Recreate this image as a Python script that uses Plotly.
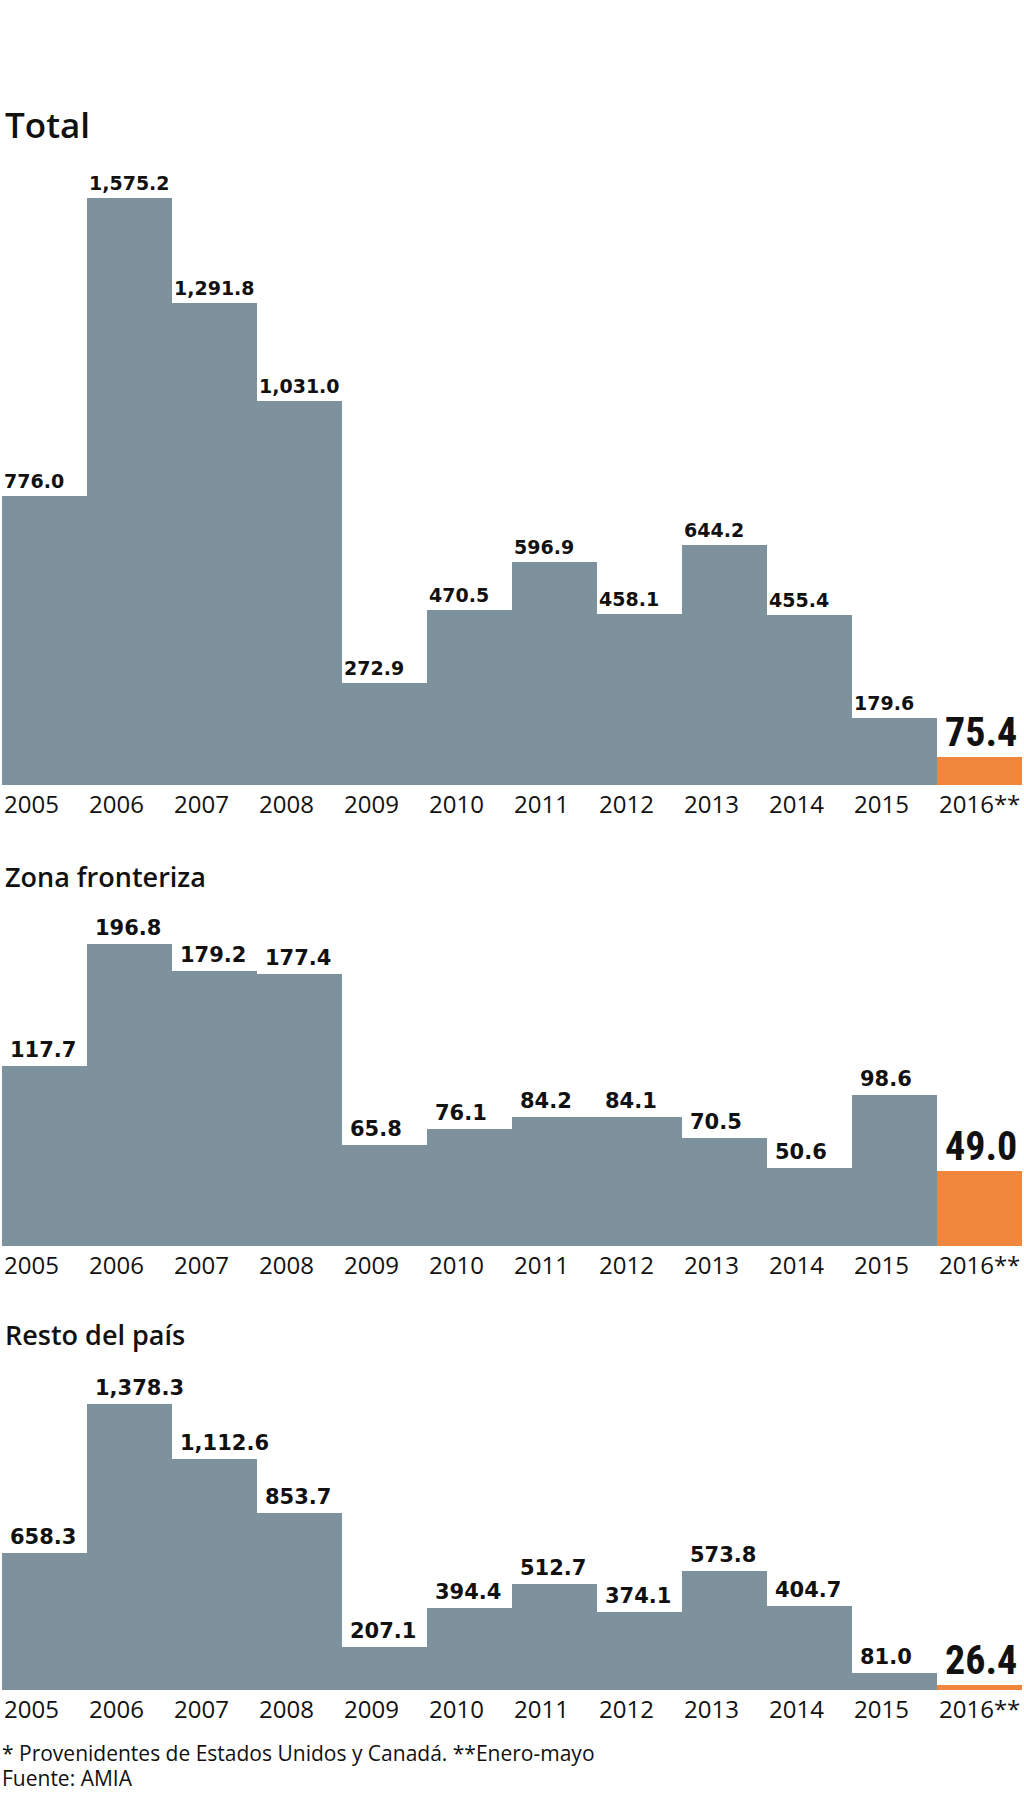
import plotly.graph_objects as go
from plotly.subplots import make_subplots

# Datos (miles de unidades)
years = ["2005", "2006", "2007", "2008", "2009", "2010",
         "2011", "2012", "2013", "2014", "2015", "2016**"]
total = [776.0, 1575.2, 1291.8, 1031.0, 272.9, 470.5,
         596.9, 458.1, 644.2, 455.4, 179.6, 75.4]
frontera = [117.7, 196.8, 179.2, 177.4, 65.8, 76.1,
            84.2, 84.1, 70.5, 50.6, 98.6, 49.0]
resto = [658.3, 1378.3, 1112.6, 853.7, 207.1, 394.4,
         512.7, 374.1, 573.8, 404.7, 81.0, 26.4]

titles = ["Total", "Zona fronteriza", "Resto del país"]
nota = "* Provenidentes de Estados Unidos y Canadá. **Enero-mayo"
fuente = "Fuente: AMIA"

W, H = 1024, 1796
GRAY = "#7e929e"
ORANGE = "#f0873d"

# layout de cada panel: (linea base px, tope px, max eje y, y del título px, tamaño título, sangría, tamaño valor)
panels = [
    (785, 151, 1700, 138, 35, 1, 19),
    (1246, 924, 210, 887, 27, 7, 21),
    (1690, 1389, 1450, 1345, 27, 7, 21),
]
series = [total, frontera, resto]

fig = make_subplots(rows=3, cols=1)
annotations = []

for p, (vals, cfg) in enumerate(zip(series, panels)):
    base_px, top_px, ymax, title_px, title_size, indent, vsize = cfg
    row = p + 1
    xs = list(range(len(years)))
    colors = [GRAY] * (len(years) - 1) + [ORANGE]
    fig.add_trace(go.Bar(x=xs, y=vals, width=1, marker_color=colors,
                         marker_line_width=0, hoverinfo="skip",
                         showlegend=False), row=row, col=1)

    sfx = "" if p == 0 else str(row)
    fig.layout["xaxis" + sfx].update(
        domain=[2 / W, 1 - 2 / W], range=[-0.5, len(years) - 0.5],
        showticklabels=False, showgrid=False, zeroline=False, ticks="")
    fig.layout["yaxis" + sfx].update(
        domain=[1 - base_px / H, 1 - top_px / H], range=[0, ymax],
        showticklabels=False, showgrid=False, zeroline=False, ticks="")

    xref, yref = "x" + sfx, "y" + sfx

    # título
    annotations.append(dict(
        text=titles[p], xref="paper", yref="paper", x=3 / W,
        y=1 - title_px / H, xanchor="left", yanchor="bottom",
        yshift=-0.27 * title_size - 3, showarrow=False,
        font=dict(family="Open Sans", size=title_size, color="#111111", weight=600)))

    for i, (yr, v) in enumerate(zip(years, vals)):
        # año
        annotations.append(dict(
            text=yr, xref=xref, yref=yref, x=i - 0.5, y=0,
            xanchor="left", yanchor="top", yshift=0, xshift=0,
            showarrow=False,
            font=dict(family="Open Sans", size=24, color="#111111")))
        # valor
        if i == len(years) - 1:
            annotations.append(dict(
                text=f"<b>{v:,.1f}</b>", xref=xref, yref=yref, x=i - 0.5, y=v,
                xanchor="left", yanchor="bottom", xshift=6, yshift=-1,
                showarrow=False,
                font=dict(family="Roboto Condensed, Roboto", size=40, color="#111111")))
        else:
            annotations.append(dict(
                text=f"<b>{v:,.1f}</b>", xref=xref, yref=yref, x=i - 0.5, y=v,
                xanchor="left", yanchor="bottom", xshift=indent - 1, yshift=2,
                showarrow=False,
                font=dict(family="DejaVu Sans", size=vsize, color="#111111")))

# notas al pie (línea base en px)
for txt, base in [(nota, 1768), (fuente, 1793)]:
    annotations.append(dict(
        text=txt, xref="paper", yref="paper", x=0, y=1 - base / H,
        xanchor="left", yanchor="bottom", yshift=-1, showarrow=False,
        font=dict(family="Open Sans", size=21, color="#111111")))

fig.update_layout(
    width=W, height=H, margin=dict(l=0, r=0, t=0, b=0),
    paper_bgcolor="white", plot_bgcolor="white",
    bargap=0, annotations=annotations)

fig.write_html("out.html", config={"displayModeBar": False},
               post_script="document.body.style.margin = '0';")
